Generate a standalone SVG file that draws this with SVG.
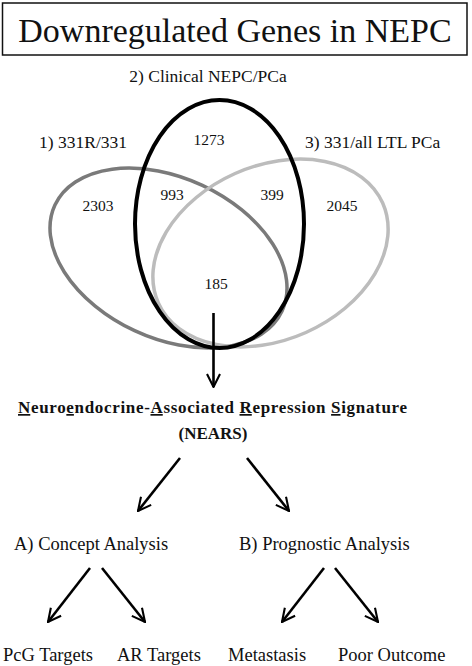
<svg xmlns="http://www.w3.org/2000/svg" width="472" height="666" viewBox="0 0 472 666">
<style>
text{font-family:"Liberation Serif","Times New Roman",serif;fill:#111}
.t{font-size:34px}
.lbl{font-size:17.5px}
.num{font-size:15.5px;text-anchor:middle}
.b{font-weight:bold;font-size:17px}
.u{text-decoration:underline}
.s{font-size:18.5px}
.ar{fill:none;stroke:#000;stroke-width:2.6;marker-end:url(#ah)}
</style>
<defs>
<marker id="ah" viewBox="0 0 12 12" refX="11" refY="6" markerWidth="6" markerHeight="6" orient="auto" markerUnits="strokeWidth">
<path d="M1,1 L11,6 L1,11" fill="none" stroke="#000" stroke-width="1.6"/>
</marker>
</defs>
<g id="title">
<rect x="2.5" y="3" width="464.5" height="52" fill="#fff" stroke="#111" stroke-width="1.5"/>
<text class="t" x="235" y="42" text-anchor="middle">Downregulated Genes in NEPC</text>
</g>
<g id="venn">
<ellipse id="set1" cx="168.5" cy="258" rx="125.3" ry="80.2" transform="rotate(25 168.5 258)" fill="none" stroke="#7a7a7a" stroke-width="3.5"/>
<ellipse id="set3" cx="270.5" cy="253" rx="122.8" ry="87" transform="rotate(-24 270.5 253)" fill="none" stroke="#bcbcbc" stroke-width="3.5"/>
<ellipse id="set2" cx="219.5" cy="224" rx="84.5" ry="124" fill="none" stroke="#000" stroke-width="4"/>
<text class="lbl" x="208" y="82" text-anchor="middle">2) Clinical NEPC/PCa</text>
<text class="lbl" x="39" y="148">1) 331R/331</text>
<text class="lbl" x="305" y="148">3) 331/all LTL PCa</text>
<text class="num" x="209" y="145">1273</text>
<text class="num" x="98" y="211">2303</text>
<text class="num" x="172" y="200">993</text>
<text class="num" x="272" y="200">399</text>
<text class="num" x="342" y="211">2045</text>
<text class="num" x="216" y="289">185</text>
</g>
<g id="nears">
<text class="b" x="18" y="413" textLength="389" lengthAdjust="spacing"><tspan class="u">N</tspan>euro<tspan class="u">e</tspan>ndocrine-<tspan class="u">A</tspan>ssociated <tspan class="u">R</tspan>epression <tspan class="u">S</tspan>ignature</text>
<text class="b" x="213" y="439" text-anchor="middle">(NEARS)</text>
</g>
<g id="conceptA"><text class="s" x="14" y="550">A) Concept Analysis</text></g>
<g id="prognosticB"><text class="s" x="239" y="550">B) Prognostic Analysis</text></g>
<g id="pcg"><text class="s" x="3" y="661">PcG Targets</text></g>
<g id="art"><text class="s" x="117" y="661">AR Targets</text></g>
<g id="meta"><text class="s" x="228" y="661">Metastasis</text></g>
<g id="poor"><text class="s" x="338" y="661">Poor Outcome</text></g>
<g id="connectors">
<line class="ar" x1="213.5" y1="313" x2="213.5" y2="387"/>
<line class="ar" x1="180" y1="458" x2="138" y2="511"/>
<line class="ar" x1="247" y1="458" x2="289" y2="511"/>
<line class="ar" x1="90" y1="568" x2="48" y2="622"/>
<line class="ar" x1="102" y1="568" x2="145" y2="622"/>
<line class="ar" x1="324" y1="568" x2="282" y2="622"/>
<line class="ar" x1="335" y1="568" x2="378" y2="622"/>
</g>
</svg>
